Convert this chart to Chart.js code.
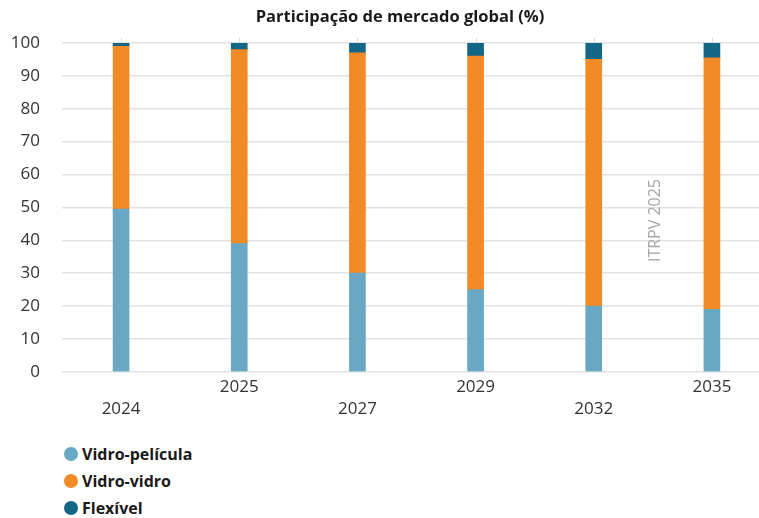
<!DOCTYPE html>
<html>
<head>
<meta charset="utf-8">
<script src="https://cdn.jsdelivr.net/npm/chart.js@4"></script>
<style>
  html, body { margin: 0; padding: 0; background: #fff; overflow: hidden; }
  #wrap { position: relative; width: 759px; height: 518px; overflow: hidden; }
  #chart-box { position: absolute; left: 0; top: 0; width: 771px; height: 430px; }
  #legend { position: absolute; left: 64px; top: 440px; font-family: "Open Sans", sans-serif; }
  .item { display: flex; align-items: center; height: 27px; font-size: 16px; font-weight: 700; color: #1a1a1a; }
  .dot { width: 14px; height: 14px; border-radius: 50%; margin-right: 4px; }
</style>
</head>
<body>
<div id="wrap">
  <div id="chart-box"><canvas id="c"></canvas></div>
  <div id="legend"></div>
</div>
<script>
const years = ["2024", "2025", "2027", "2029", "2032", "2035"];
const vidroPelicula = [49.5, 39, 30, 25, 20, 19];
const vidroVidro = [49.5, 59, 67, 71, 75, 76.5];
const flexivel = [1, 2, 3, 4, 5, 4.5];
const yTicks = [0, 10, 20, 30, 40, 50, 60, 70, 80, 90, 100];

const colors = ["#68a8c5", "#f28a26", "#136685"];
const names = ["Vidro-película", "Vidro-vidro", "Flexível"];

// title + watermark + the little tick marks above the top gridline
const extras = {
  id: "extras",
  afterDraw(chart) {
    const { ctx, chartArea, scales } = chart;
    ctx.save();
    ctx.strokeStyle = "#d9d9d9";
    ctx.lineWidth = 1;
    years.forEach((y, i) => {
      const x = Math.round(scales.x.getPixelForValue(i)) + 0.5;
      ctx.beginPath();
      ctx.moveTo(x, chartArea.top - 5);
      ctx.lineTo(x, chartArea.top);
      ctx.stroke();
    });

    ctx.fillStyle = "#1a1a1a";
    ctx.font = "bold 16.5px 'Open Sans'";
    ctx.textAlign = "center";
    ctx.textBaseline = "middle";
    ctx.fillText("Participação de mercado global (%)", 400, 17);

    const wx = scales.x.getPixelForValue(4.52);
    const wy = scales.y.getPixelForValue(46);
    ctx.translate(wx, wy);
    ctx.rotate(-Math.PI / 2);
    ctx.fillStyle = "#a6a6a6";
    ctx.font = "16px 'Open Sans'";
    ctx.fillText("ITRPV 2025", 0, 0);
    ctx.restore();
  }
};

const chart = new Chart(document.getElementById("c"), {
  type: "bar",
  data: {
    labels: years,
    datasets: [
      { label: names[0], data: vidroPelicula, backgroundColor: colors[0] },
      { label: names[1], data: vidroVidro, backgroundColor: colors[1] },
      { label: names[2], data: flexivel, backgroundColor: colors[2] },
    ],
  },
  options: {
    responsive: true,
    maintainAspectRatio: false,
    animation: false,
    datasets: { bar: { barThickness: 16 } },
    layout: { padding: { top: 43, left: 12, right: 0, bottom: 14 } },
    scales: {
      x: {
        stacked: true,
        grid: { display: false },
        border: { display: false },
        ticks: {
          color: "#333",
          font: { family: "Open Sans", size: 17, lineHeight: 1.3 },
          padding: -4,
          maxRotation: 0,
          autoSkip: false,
          callback: (v, i) => (i % 2 === 0 ? ["", years[i]] : years[i]),
        },
      },
      y: {
        stacked: true,
        min: 0,
        max: 100,
        afterBuildTicks: (axis) => { axis.ticks = yTicks.map((v) => ({ value: v })); },
        afterFit: (axis) => { axis.width = 50; },
        grid: { color: "#e2e2e2", lineWidth: 1.5, drawTicks: false },
        border: { display: false },
        ticks: {
          color: "#333",
          font: { family: "Open Sans", size: 17 },
          padding: 22,
        },
      },
    },
    plugins: {
      legend: { display: false },
      tooltip: { enabled: false },
    },
  },
  plugins: [extras],
});

const legend = document.getElementById("legend");
chart.data.datasets.forEach((ds) => {
  const row = document.createElement("div");
  row.className = "item";
  const dot = document.createElement("span");
  dot.className = "dot";
  dot.style.background = ds.backgroundColor;
  row.appendChild(dot);
  row.appendChild(document.createTextNode(ds.label));
  legend.appendChild(row);
});
</script>
</body>
</html>
